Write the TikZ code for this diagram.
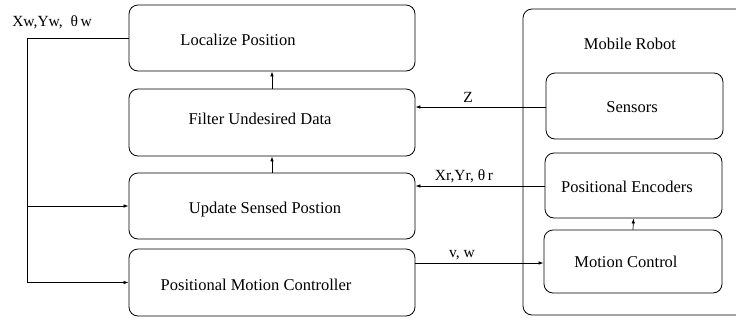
\documentclass[tikz,border=0pt]{standalone}
\usepackage{fontspec}
\setmainfont{Liberation Serif}
\usetikzlibrary{arrows.meta}
\begin{document}
\begin{tikzpicture}[x=1pt,y=-1pt,
  blk/.style={draw,line width=0.8pt,rounded corners=9pt,inner sep=0pt},
  txt/.style={inner sep=0pt,font=\fontsize{16.5}{19}\selectfont},
  lbl/.style={inner sep=0pt,font=\fontsize{15.5}{18}\selectfont},
  arr/.style={line width=0.7pt,-{Latex[length=5pt,width=3.5pt]}},
  ln/.style={line width=0.7pt}]
\clip (0,0) rectangle (736,322);
\fill[white] (0,0) rectangle (736,322);
% left column
\node[blk,minimum width=286pt,minimum height=66pt] (L) at (272,38) {};
\node[blk,minimum width=286pt,minimum height=67pt] (F) at (272,122.5) {};
\node[blk,minimum width=286pt,minimum height=66pt] (U) at (272,206) {};
\node[blk,minimum width=286pt,minimum height=67pt] (P) at (272,282.5) {};
\node[txt] (Lt) at (238,40) {Localize Position};
\node[txt] (Ft) at (260,119) {Filter Undesired Data};
\node[txt] (Ut) at (265,210) {Update Sensed Postion};
\node[txt] (Pt) at (256,285) {Positional Motion Controller};
% mobile robot
\node[blk,minimum width=226pt,minimum height=306pt] (R) at (636,162) {};
\node[txt] (Rt) at (630,44) {Mobile Robot};
\node[blk,minimum width=177pt,minimum height=66pt] (S) at (634.5,106) {};
\node[blk,minimum width=177pt,minimum height=65pt] (E) at (633.5,185.5) {};
\node[blk,minimum width=178pt,minimum height=63pt] (M) at (633,261.5) {};
\node[txt] (St) at (632,107) {Sensors};
\node[txt] (Et) at (627,187) {Positional Encoders};
\node[txt] (Mt) at (626,262) {Motion Control};
% connectors
\coordinate (j1) at (27,206);
\coordinate (j2) at (27,282.5);
\draw[ln] (L.west) -| (j2);
\draw[arr] (j2) -- (P.west);
\draw[arr] (j1) -- (U.west);
\draw[arr] (F.north) -- (L.south);
\draw[arr] (U.north) -- (F.south);
\draw[arr] (S.west |- 0,107) -- (F.east |- 0,107);
\draw[arr] (E.west |- 0,186) -- (U.east |- 0,186);
\draw[arr] (P.east |- 0,263) -- (M.west |- 0,263);
\draw[arr] (M.north) -- (E.south);
% labels
\node[lbl] (lw) at (52,22) {Xw,Yw,\ \ θ\,w};
\node[lbl] (lz) at (468,97) {Z};
\node[lbl] (lr) at (464,176) {Xr,Yr,\ θ\,r};
\node[lbl] (lv) at (462,255) {v, w};
\end{tikzpicture}
\end{document}
